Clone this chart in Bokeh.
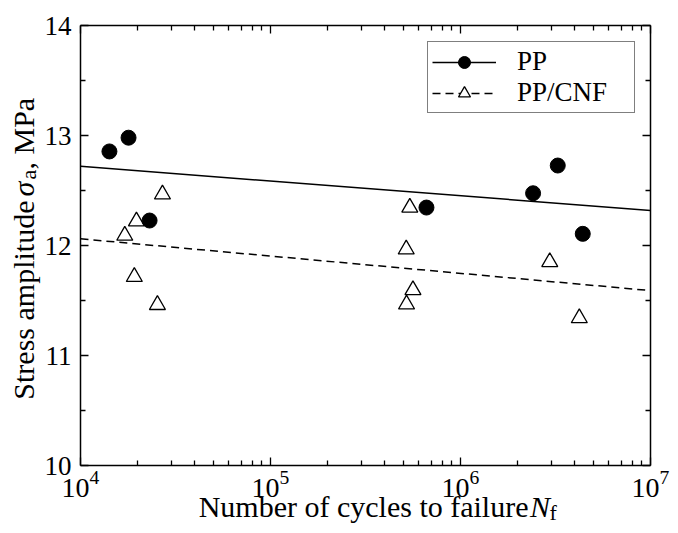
import math
from math import pi
from bokeh.plotting import figure
from bokeh.models import (LogAxis, LinearAxis, FixedTicker, Legend, LegendItem, Label, Range1d)
from bokeh.embed import file_html
from bokeh.resources import INLINE

# ---- data ----
pp_cycles = [1.42e4, 1.79e4, 2.31e4, 6.62e5, 2.41e6, 3.25e6, 4.40e6]
pp_stress = [12.855, 12.98, 12.227, 12.345, 12.475, 12.727, 12.106]
cnf_cycles = [1.71e4, 1.97e4, 2.70e4, 1.92e4, 2.54e4, 5.18e5, 5.41e5, 5.62e5, 5.20e5, 2.95e6, 4.22e6]
cnf_stress = [12.09, 12.22, 12.465, 11.715, 11.46, 11.965, 12.345, 11.595, 11.465, 11.85, 11.34]
fit_cycles = [1e4, 1e7]
pp_fit = [12.72, 12.318]
cnf_fit = [12.061, 11.59]
series_labels = ["PP", "PP/CNF"]
x_ticks = [1e4, 1e5, 1e6, 1e7]
y_ticks = [10, 11, 12, 13, 14]
x_limits = (1e4, 1e7)
y_limits = (10, 14)

FONT = "Liberation Serif"

# ---- layout geometry (pixels) ----
W, H = 670, 525
F_LEFT, F_RIGHT, F_TOP, F_BOTTOM = 80, 650, 25, 465

lx0, lx1 = math.log10(x_limits[0]), math.log10(x_limits[1])
ppd = (F_RIGHT - F_LEFT) / (lx1 - lx0)
x_lo = 10 ** (lx0 - F_LEFT / ppd)
x_hi = 10 ** (lx1 + (W - F_RIGHT) / ppd)
ppu = (F_BOTTOM - F_TOP) / (y_limits[1] - y_limits[0])
y_lo = y_limits[0] - (H - F_BOTTOM) / ppu
y_hi = y_limits[1] + F_TOP / ppu

p = figure(width=W, height=H, x_axis_type="log",
           x_range=Range1d(x_lo, x_hi), y_range=Range1d(y_lo, y_hi),
           x_axis_location=None, y_axis_location=None,
           output_backend="svg", toolbar_location=None,
           min_border=0)
p.grid.visible = False
p.outline_line_color = None
p.background_fill_color = "white"
p.border_fill_color = "white"

x_minor = [m * d for d in x_ticks[:-1] for m in range(2, 10)]
y_minor = [t + 0.5 for t in y_ticks[:-1]]

bottom_axis = LogAxis(fixed_location=y_limits[0], bounds=x_limits,
                      ticker=FixedTicker(ticks=x_ticks, minor_ticks=x_minor))
top_axis = LogAxis(fixed_location=y_limits[1], bounds=x_limits,
                   ticker=FixedTicker(ticks=x_ticks, minor_ticks=x_minor))
left_axis = LinearAxis(fixed_location=x_limits[0], bounds=y_limits,
                       ticker=FixedTicker(ticks=y_ticks, minor_ticks=y_minor))
right_axis = LinearAxis(fixed_location=x_limits[1], bounds=y_limits,
                        ticker=FixedTicker(ticks=y_ticks, minor_ticks=y_minor))
p.add_layout(bottom_axis, "below")
p.add_layout(top_axis, "above")
p.add_layout(left_axis, "left")
p.add_layout(right_axis, "right")

for ax in [bottom_axis, top_axis, left_axis, right_axis]:
    ax.axis_line_width = 1.5
    ax.axis_line_color = "black"
    ax.major_tick_in = 8
    ax.major_tick_out = 0
    ax.minor_tick_in = 5
    ax.minor_tick_out = 0
    ax.major_tick_line_width = 1.3
    ax.minor_tick_line_width = 1.3
    ax.major_tick_line_color = "black"
    ax.minor_tick_line_color = "black"
    ax.major_label_text_font = FONT
    ax.major_label_text_color = "black"

left_axis.major_label_text_font_size = "27px"
left_axis.major_label_standoff = 9
bottom_axis.major_label_text_font_size = "28px"
bottom_axis.major_label_standoff = 5
for ax in [top_axis, right_axis]:
    ax.major_label_text_font_size = "2px"
    ax.major_label_text_color = None
    ax.major_label_standoff = 0

r_pp_line = p.line(fit_cycles, pp_fit, line_color="black", line_width=1.5)
r_cnf_line = p.line(fit_cycles, cnf_fit, line_color="black", line_width=1.5, line_dash="8 5")
r_cnf_pts = p.scatter(cnf_cycles, cnf_stress, marker="triangle", size=16,
                      fill_color="white", line_color="black", line_width=1.3)
r_pp_pts = p.scatter(pp_cycles, pp_stress, marker="circle", size=15,
                     fill_color="black", line_color="black")

legend = Legend(items=[LegendItem(label=series_labels[0], renderers=[r_pp_line, r_pp_pts]),
                       LegendItem(label=series_labels[1], renderers=[r_cnf_line, r_cnf_pts])],
                location=(427, H - 113), orientation="vertical",
                border_line_color="black", border_line_width=1.5,
                background_fill_color="white", background_fill_alpha=1,
                padding=4, spacing=0, margin=0,
                glyph_width=64, glyph_height=30, label_standoff=21, label_width=113,
                label_text_font=FONT, label_text_font_size="27px",
                label_text_color="black", label_height=20)
p.add_layout(legend)

# ---- axis titles composed of normal, italic and subscript parts ----
def lab(text, x, y, size, style="normal", align="left", angle=0.0):
    p.add_layout(Label(x=x, y=y, x_units="screen", y_units="screen", text=text,
                       text_font=FONT, text_font_size=f"{size}px", text_font_style=style,
                       text_align=align, text_baseline="alphabetic", angle=angle,
                       text_color="black"))

# Bokeh places an "alphabetic" anchored label about a third of an em lower
# than the requested baseline; compensate along the text's vertical direction.
def shift(size):
    return round(0.34 * size)

# x title: baseline at y = 516 (from top), parts laid out left to right
XT_BASE = 516
lab("Number of cycles to failure", 528, H - XT_BASE + shift(30), 30, align="right")
lab("N", 529.5, H - XT_BASE + shift(30), 30, style="italic")
lab("f", 549, H - XT_BASE - 3 + shift(22), 22)

# y title (rotated): baseline at x = 33
lab("Stress amplitude", 33 - shift(30), H - 200, 30, align="right", angle=pi / 2)
lab("\u03c3", 33 - shift(30), H - 196, 30, style="italic", angle=pi / 2)
lab("a", 35 - shift(22), H - 179, 22, angle=pi / 2)
lab(", MPa", 33 - shift(30), H - 169, 30, angle=pi / 2)

open("out.html", "w").write(file_html(p, INLINE))
